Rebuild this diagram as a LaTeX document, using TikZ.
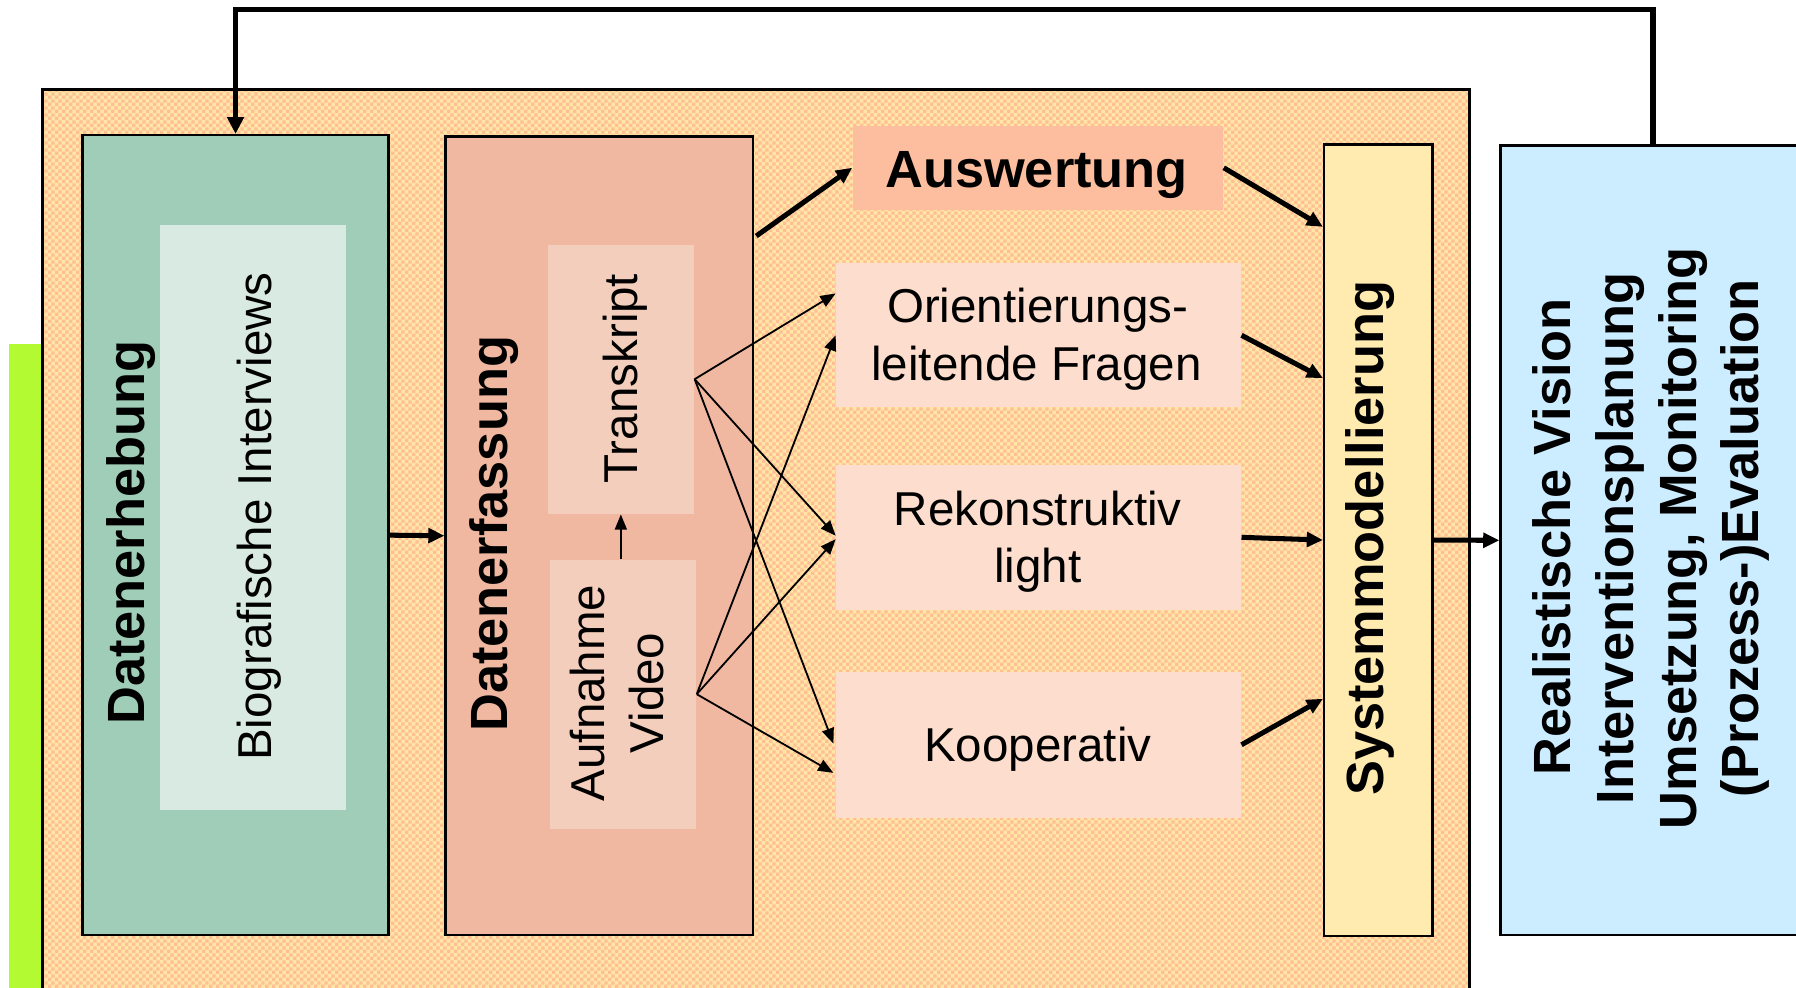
\documentclass[tikz,border=0pt]{standalone}
\usepackage{fontspec}
\setmainfont{Liberation Sans}
\usetikzlibrary{arrows.meta,patterns}

\definecolor{patyellow}{RGB}{255,230,165}
\definecolor{patpeach}{RGB}{255,190,150}
\definecolor{limegreen}{RGB}{179,250,50}
\definecolor{sagegreen}{RGB}{159,205,183}
\definecolor{palegreen}{RGB}{216,234,225}
\definecolor{salmon}{RGB}{240,184,160}
\definecolor{palesalmon}{RGB}{244,206,188}
\definecolor{apricot}{RGB}{252,190,158}
\definecolor{blush}{RGB}{253,222,206}
\definecolor{cream}{RGB}{255,234,176}
\definecolor{skyblue}{RGB}{204,236,255}

% fine two-colour checker used on the surrounding panel
\pgfdeclarepatternformonly{finecheck}{\pgfpointorigin}{\pgfqpoint{1.7pt}{1.7pt}}{\pgfqpoint{1.7pt}{1.7pt}}{%
  \pgfpathrectangle{\pgfpointorigin}{\pgfqpoint{0.85pt}{0.85pt}}%
  \pgfpathrectangle{\pgfqpoint{0.85pt}{0.85pt}}{\pgfqpoint{0.85pt}{0.85pt}}%
  \pgfusepath{fill}}

\begin{document}
\begin{tikzpicture}[x=0.01cm,y=-0.01cm,
  panel/.style={draw=black, line width=0.6pt, inner sep=0pt, anchor=north west},
  plainbox/.style={inner sep=0pt, anchor=north west},
  regtxt/.style={inner sep=0pt, anchor=base, font=\fontsize{11.8}{14}\selectfont},
  boldtxt/.style={inner sep=0pt, anchor=base, font=\fontsize{13}{15.5}\selectfont\bfseries},
  thickarrow/.style={line width=1.25pt, -{Triangle[length=4pt,width=3.6pt]}},
  thinarrow/.style={line width=0.45pt, -{Triangle[length=3.8pt,width=3pt]}},
  loop/.style={line width=1.3pt, -{Triangle[length=4.2pt,width=4pt]}}]

\useasboundingbox (0,0) rectangle (1568,862);
\clip (0,0) rectangle (1568,862);
\fill[white] (0,0) rectangle (1568,862);

% side strip and patterned frame
\node[plainbox, fill=limegreen, minimum width=0.29cm, minimum height=6cm] (strip) at (7,300) {};
\node[panel, preaction={fill=patyellow}, pattern=finecheck, pattern color=patpeach,
      minimum width=12.45cm, minimum height=8.23cm] (frame) at (36,77) {};

% data collection
\node[panel, fill=sagegreen, minimum width=2.67cm, minimum height=6.98cm] (erheb) at (71,117) {};
\node[plainbox, fill=palegreen, minimum width=1.62cm, minimum height=5.1cm] (bio) at (139,196) {};
\node[boldtxt, rotate=90] (erhebtxt) at (126,465) {Datenerhebung};
\node[regtxt, rotate=90] (biotxt) at (237,451) {Biografische Interviews};

% data capture
\node[panel, fill=salmon, minimum width=2.68cm, minimum height=6.97cm] (erfass) at (388,118) {};
\node[plainbox, fill=palesalmon, minimum width=1.274cm, minimum height=2.346cm] (trans) at (477.6,213) {};
\node[plainbox, fill=palesalmon, minimum width=1.275cm, minimum height=2.346cm] (video) at (479.3,488) {};
\node[boldtxt, rotate=90] (erfasstxt) at (443,466) {Datenerfassung};
\node[regtxt, rotate=90] (transtxt) at (557,330.5) {Transkript};
\node[regtxt, rotate=90] (videotxta) at (528,605) {Aufnahme};
\node[regtxt, rotate=90] (videotxtb) at (579,605) {Video};

% analysis
\node[plainbox, fill=apricot, minimum width=3.228cm, minimum height=0.735cm] (ausw) at (744,109) {};
\node[boldtxt] (auswtxt) at (905,163.5) {Auswertung};
\node[plainbox, fill=blush, minimum width=3.527cm, minimum height=1.26cm] (orient) at (729.6,229) {};
\node[regtxt] (orienttxta) at (906,282) {Orientierungs-};
\node[regtxt] (orienttxtb) at (905,331.8) {leitende Fragen};
\node[plainbox, fill=blush, minimum width=3.527cm, minimum height=1.268cm] (rekon) at (729.6,405) {};
\node[regtxt] (rekontxta) at (906,458.6) {Rekonstruktiv};
\node[regtxt] (rekontxtb) at (906,509) {light};
\node[plainbox, fill=blush, minimum width=3.527cm, minimum height=1.27cm] (koop) at (729.6,586) {};
\node[regtxt] (kooptxt) at (906,665) {Kooperativ};

% system modelling
\node[panel, fill=cream, minimum width=0.946cm, minimum height=6.905cm] (system) at (1155,125) {};
\node[boldtxt, rotate=90] (systemtxt) at (1208,470) {Systemmodellierung};

% outcome
\node[panel, fill=skyblue, minimum width=2.66cm, minimum height=6.89cm] (blue) at (1309,126) {};
\node[boldtxt, rotate=90] (bluetxta) at (1370.7,469) {Realistische Vision};
\node[boldtxt, rotate=90] (bluetxtb) at (1426,470) {Interventionsplanung};
\node[boldtxt, rotate=90] (bluetxtc) at (1481.3,470) {Umsetzung, Monitoring};
\node[boldtxt, rotate=90] (bluetxtd) at (1535,470) {(Prozess-)Evaluation};

% connectors
\draw[thickarrow] (erheb.east) -- (erfass.west);
\draw[thinarrow] (trans.south |- video.north) -- (trans.south);
\draw[thickarrow] ([xshift=0.2mm,yshift=-8.8mm]erfass.north east) -- (ausw.west);

\draw[thinarrow] (trans.east) -- ([yshift=3.65mm]orient.west);
\draw[thinarrow] (trans.east) -- ([yshift=0.14mm]rekon.west);
\draw[thinarrow] (trans.east) -- ([xshift=-0.2mm,yshift=0.1mm]koop.west);
\draw[thinarrow] (video.east) -- (orient.west);
\draw[thinarrow] (video.east) -- ([yshift=-0.16mm]rekon.west);
\draw[thinarrow] (video.east) -- ([xshift=-0.2mm,yshift=-2.45mm]koop.west);

\draw[thickarrow] (ausw.east) -- ([yshift=-7.3mm]system.north west);
\draw[thickarrow] (orient.east) -- ([yshift=-20.5mm]system.north west);
\draw[thickarrow] (rekon.east) -- (system.west);
\draw[thickarrow] (koop.east) -- ([yshift=-1.385cm]system.west);
\draw[thickarrow] (system.east) -- (blue.west);

\coordinate (fbtop) at (800,8);
\draw[loop] (blue.north) |- (fbtop) -| (erheb.north);

\end{tikzpicture}
\end{document}
